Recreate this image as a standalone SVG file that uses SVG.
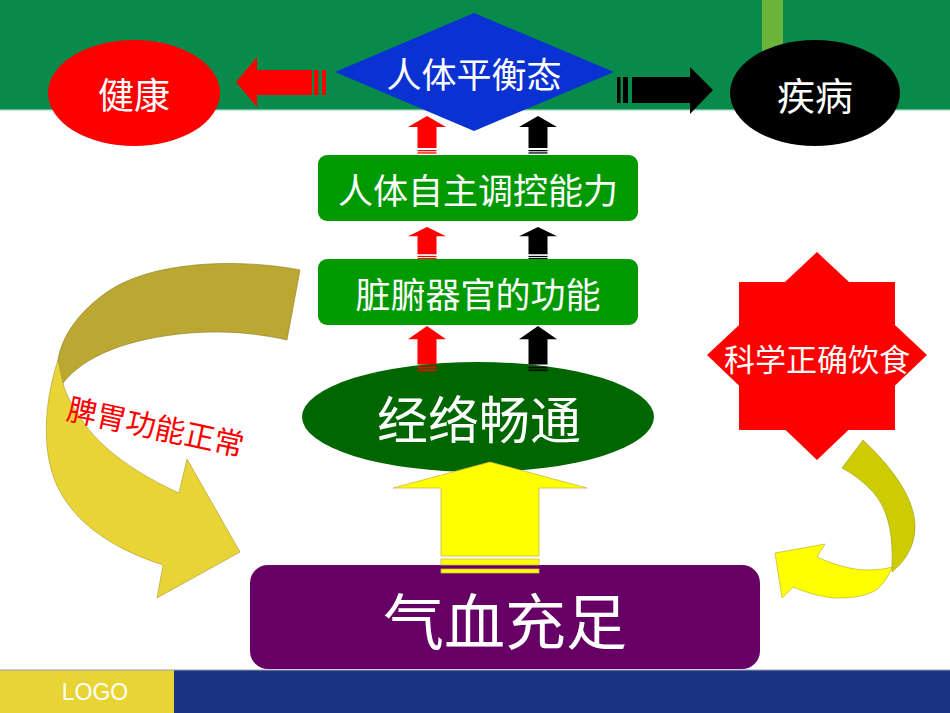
<svg xmlns="http://www.w3.org/2000/svg" xmlns:xlink="http://www.w3.org/1999/xlink" width="950" height="713" viewBox="0 0 950 713">
<style>
.t{font-family:"Noto Sans CJK SC","Liberation Sans",sans-serif;fill:#fff;text-anchor:middle;dominant-baseline:central}
</style>
<defs>
<g id="arRed">
<path d="M0,0 L19,11 L9.5,11 L9.5,32 L-9.5,32 L-9.5,11 L-19,11 Z" fill="#ff0000"/>
<rect x="-9.5" y="34" width="19" height="1.3" fill="#ff0000"/>
<rect x="-9.5" y="36.3" width="19" height="1.3" fill="#ff0000"/>
</g>
<g id="arBlk">
<path d="M0,0 L19,11 L9.5,11 L9.5,32 L-9.5,32 L-9.5,11 L-19,11 Z" fill="#000"/>
<rect x="-9.5" y="34" width="19" height="1.3" fill="#000"/>
<rect x="-9.5" y="36.3" width="19" height="1.3" fill="#000"/>
</g>
</defs>
<rect width="950" height="713" fill="#fff"/>
<g id="background">
<rect x="0" y="0" width="950" height="110" fill="#078a4a"/>
<rect x="0" y="109.5" width="950" height="1.5" fill="#bfe8d8"/>
<rect x="762" y="0" width="21" height="110" fill="#6ab43a"/>
<rect x="0" y="670" width="950" height="43" fill="#1b3583"/>
<rect x="0" y="670" width="174" height="43" fill="#e8d434"/>
<rect x="0" y="669.5" width="950" height="1" fill="#9aa0b0"/>
<text x="95" y="692" font-family="Liberation Sans, Arial, sans-serif" font-size="23" fill="#fff" text-anchor="middle" dominant-baseline="central">LOGO</text>
</g>
<g id="node-jiankang">
<ellipse cx="134" cy="93" rx="86" ry="53" fill="#ff0000"/>
<text class="t" x="134" y="93" font-size="36">健康</text>
</g>
<g id="node-jibing">
<ellipse cx="815" cy="93" rx="85" ry="53" fill="#000"/>
<text class="t" x="815" y="93" font-size="38">疾病</text>
</g>
<g id="node-balance">
<path d="M474,13 L614,72 L474,131 L335,72 Z" fill="#0a32d2"/>
<text class="t" x="474" y="72" font-size="35">人体平衡态</text>
</g>
<g id="node-regulate">
<rect x="318" y="155" width="320" height="66" rx="9" fill="#009900"/>
<text class="t" x="478" y="188" font-size="35">人体自主调控能力</text>
</g>
<g id="node-organs">
<rect x="318" y="259" width="320" height="66" rx="9" fill="#009900"/>
<text class="t" x="478" y="292" font-size="35">脏腑器官的功能</text>
</g>
<g id="node-meridian">
<ellipse cx="478" cy="417" rx="176" ry="55" fill="#006600"/>
<text class="t" x="479" y="417" font-size="51">经络畅通</text>
</g>
<g id="node-qixue">
<rect x="250" y="565" width="510" height="104" rx="18" fill="#660066"/>
<text class="t" x="505" y="618" font-size="61">气血充足</text>
</g>
<g id="node-diet">
<rect x="739" y="282" width="156" height="148" fill="#ff0000"/>
<path d="M817,252 L927,355 L817,460 L707,355 Z" fill="#ff0000"/>
<text class="t" x="817" y="357" font-size="31">科学正确饮食</text>
</g>
<g id="connectors">
<path d="M236,82 L257,57 L257,70 L312,70 L312,95 L257,95 L257,107 Z" fill="#ff0000"/>
<rect x="314" y="70" width="4.5" height="25" fill="#ff0000"/>
<rect x="322" y="70" width="4" height="25" fill="#ff0000"/>
<rect x="617" y="77" width="3.5" height="26" fill="#000"/>
<rect x="623" y="77" width="5" height="26" fill="#000"/>
<path d="M632,77 L690,77 L690,67 L713,90 L690,114 L690,103 L632,103 Z" fill="#000"/>
<use xlink:href="#arRed" transform="translate(427,116)"/>
<use xlink:href="#arBlk" transform="translate(538,116)"/>
<use xlink:href="#arRed" transform="translate(427,227) scale(1,0.85)"/>
<use xlink:href="#arBlk" transform="translate(538,227) scale(1,0.85)"/>
<use xlink:href="#arRed" transform="translate(427,326) scale(1,1.2)"/>
<use xlink:href="#arBlk" transform="translate(538,326) scale(1,1.2)"/>
<path d="M490,462 L587,488 L539,488 L539,556 L441,556 L441,488 L393,488 Z" fill="#ffff00" stroke="#c8b850" stroke-width="0.8"/>
<rect x="441" y="559" width="98" height="6" fill="#ffff00" stroke="#c8b850" stroke-width="0.8"/>
<rect x="441" y="569" width="98" height="4" fill="#ffff00" stroke="#c8b850" stroke-width="0.8"/>
<path d="M300,270 C250,260 160,258 110,290 C80,310 62,335 58,360 L63,383 C85,355 130,338 190,333 C230,330 260,334 287,340 Z" fill="#bba832" stroke="#8a7d20" stroke-width="0.6"/>
<path d="M58,360 C48,390 42,430 50,465 C60,510 100,545 163,565 L157,598 L240,552 L187,459 L179,493 C140,475 100,450 80,417 C72,405 66,395 63,383 Z" fill="#e8d436" stroke="#a89a30" stroke-width="0.6"/>
<text x="0" y="0" transform="translate(156,425) rotate(12)" font-family="Noto Sans CJK SC, Liberation Sans, sans-serif" font-size="30" fill="#ff0000" text-anchor="middle" dominant-baseline="central">脾胃功能正常</text>
<path d="M863,440 C895,470 915,500 915,527 C915,548 903,563 892,572 L892,567 C893,540 890,515 877,497 C868,485 855,475 842,468 Z" fill="#cccc00" stroke="#9a9a10" stroke-width="0.6"/>
<path d="M892,567 C888,578 880,590 870,593 C860,597 850,598 835,598 C820,597 805,592 793,587 L782,598 L775,553 L825,544 L817,557 C830,563 850,570 867,570 C877,570 885,569 892,567 Z" fill="#ffff00" stroke="#b0a820" stroke-width="0.6"/>
</g>
</svg>
